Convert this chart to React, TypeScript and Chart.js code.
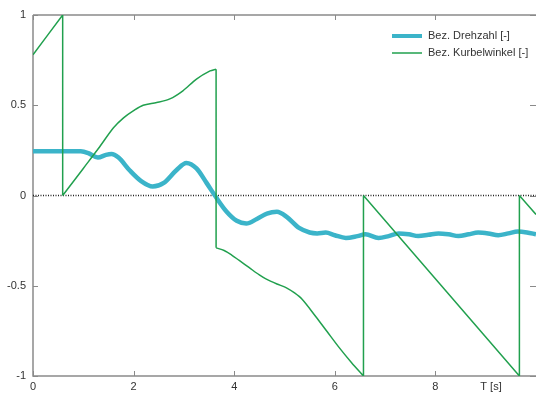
import React, { useEffect, useRef } from "react";
import { Chart, registerables } from "chart.js";

Chart.register(...registerables);

const drehzahlX = [0, 0.5, 0.95, 1.1, 1.29, 1.45, 1.56, 1.7, 1.92, 2.15, 2.38, 2.6, 2.85, 3.05, 3.25, 3.45, 3.64, 3.85, 4.05, 4.24, 4.45, 4.65, 4.85, 5.05, 5.29, 5.5, 5.65, 5.82, 6.0, 6.22, 6.45, 6.61, 6.87, 7.07, 7.27, 7.47, 7.66, 7.86, 8.06, 8.26, 8.46, 8.66, 8.85, 9.05, 9.25, 9.45, 9.64, 9.82, 10];
const drehzahlY = [0.245, 0.245, 0.245, 0.235, 0.21, 0.225, 0.23, 0.21, 0.14, 0.08, 0.05, 0.07, 0.14, 0.18, 0.15, 0.07, -0.01, -0.09, -0.14, -0.155, -0.13, -0.1, -0.09, -0.12, -0.18, -0.205, -0.21, -0.205, -0.22, -0.235, -0.225, -0.215, -0.235, -0.225, -0.21, -0.215, -0.225, -0.218, -0.21, -0.215, -0.225, -0.215, -0.205, -0.21, -0.22, -0.21, -0.2, -0.205, -0.215];

// null entries break the line so each smooth piece and each jump is drawn on its own
const kurbelX = [0, 0.59, null, 0.59, 0.59, null, 0.59, 1.0, 1.3, 1.6, 1.8, 2.0, 2.19, 2.46, 2.72, 2.98, 3.25, 3.52, 3.64, null, 3.64, 3.64, null, 3.64, 3.8, 3.95, 4.1, 4.3, 4.5, 4.63, 4.85, 5.03, 5.2, 5.35, 5.62, 5.85, 6.08, 6.33, 6.57, null, 6.57, 6.57, null, 6.57, 9.67, null, 9.67, 9.67, null, 9.67, 10];
const kurbelY = [0.78, 1.0, null, 1.0, 0, null, 0, 0.15, 0.26, 0.375, 0.43, 0.47, 0.5, 0.515, 0.535, 0.58, 0.645, 0.69, 0.7, null, 0.7, -0.29, null, -0.29, -0.305, -0.33, -0.36, -0.4, -0.44, -0.462, -0.49, -0.51, -0.54, -0.575, -0.67, -0.755, -0.84, -0.925, -1.0, null, -1.0, 0, null, 0, -1.0, null, -1.0, 0, null, 0, -0.105];

const zeroX = [0, 10];
const zeroY = [0, 0];

const seriesLabels = ["Bez. Drehzahl [-]", "Bez. Kurbelwinkel [-]"];
const xTickValues = [0, 2, 4, 6, 8, 10];
const yTickValues = [-1, -0.5, 0, 0.5, 1];
const xAxisLabel = "T [s]";

const BLUE = "#3bb4c9";
const GREEN = "#21a04e";
const FRAME = "#8a8a8a";
const TEXT = "#333333";
const FONT = "Liberation Sans, Arial, Helvetica, sans-serif";

const zip = (xs: (number | null)[], ys: (number | null)[]) =>
  xs.map((x, i) => ({ x: x === null ? NaN : x, y: ys[i] }));

const decorPlugin = {
  id: "decor",
  beforeDatasetsDraw(chart: any) {
    const ctx = chart.ctx;
    const { left, right, top, bottom } = chart.chartArea;
    const xs = chart.scales.x;
    const ys = chart.scales.y;
    ctx.save();
    ctx.strokeStyle = FRAME;
    ctx.lineWidth = 1.5;
    ctx.beginPath();
    ctx.moveTo(left, top);
    ctx.lineTo(left, bottom);
    ctx.lineTo(right + 2, bottom);
    ctx.moveTo(left, top);
    ctx.lineTo(right + 2, top);
    ctx.stroke();
    ctx.lineWidth = 1;
    ctx.beginPath();
    xTickValues.forEach((v) => {
      const px = Math.round(xs.getPixelForValue(v)) + 0.5;
      ctx.moveTo(px, bottom);
      ctx.lineTo(px, bottom - 5);
      ctx.moveTo(px, top);
      ctx.lineTo(px, top + 5);
    });
    yTickValues.forEach((v) => {
      const py = Math.round(ys.getPixelForValue(v)) + 0.5;
      ctx.moveTo(left, py);
      ctx.lineTo(left + 5, py);
      ctx.moveTo(right + 1, py);
      ctx.lineTo(right - 6, py);
    });
    ctx.stroke();
    ctx.restore();
  },
  afterDatasetsDraw(chart: any) {
    const ctx = chart.ctx;
    ctx.save();
    ctx.font = `11px ${FONT}`;
    ctx.fillStyle = TEXT;
    ctx.textBaseline = "middle";
    ctx.textAlign = "left";
    const rows = [
      { label: seriesLabels[0], color: BLUE, width: 4, y: 36 },
      { label: seriesLabels[1], color: GREEN, width: 1.5, y: 53 },
    ];
    rows.forEach((r) => {
      ctx.strokeStyle = r.color;
      ctx.lineWidth = r.width;
      ctx.beginPath();
      ctx.moveTo(392, r.y);
      ctx.lineTo(422, r.y);
      ctx.stroke();
      ctx.fillText(r.label, 428, r.y);
    });
    ctx.textAlign = "center";
    ctx.fillText(xAxisLabel, 491, 387);
    ctx.restore();
  },
};

export default function App() {
  const ref = useRef<HTMLCanvasElement | null>(null);
  useEffect(() => {
    document.body.style.margin = "0";
    const canvas = ref.current;
    if (!canvas) return;
    const chart = new Chart(canvas, {
      type: "line",
      data: {
        datasets: [
          {
            label: seriesLabels[1],
            data: zip(kurbelX, kurbelY),
            borderColor: GREEN,
            borderWidth: 1.5,
            pointRadius: 0,
            tension: 0.3,
            spanGaps: false,
            order: 0,
          },
          {
            label: seriesLabels[0],
            data: zip(drehzahlX, drehzahlY),
            borderColor: BLUE,
            borderWidth: 4.5,
            pointRadius: 0,
            cubicInterpolationMode: "monotone",
            order: 1,
          },
          {
            label: "zero",
            data: zip(zeroX, zeroY),
            borderColor: "#222222",
            borderWidth: 1.5,
            borderDash: [1, 1.5],
            pointRadius: 0,
            order: 2,
          },
        ],
      },
      options: {
        animation: false,
        responsive: false,
        layout: { padding: { top: 15, right: 0, left: 0, bottom: 0 } },
        plugins: { legend: { display: false }, tooltip: { enabled: false } },
        scales: {
          x: {
            type: "linear",
            min: 0,
            max: 10,
            afterFit: (s: any) => {
              s.height = 18;
            },
            afterBuildTicks: (s: any) => {
              s.ticks = xTickValues.map((v) => ({ value: v }));
            },
            ticks: {
              autoSkip: false,
              maxRotation: 0,
              padding: 4,
              color: TEXT,
              font: { family: FONT, size: 11 },
              callback: (v: any) => (v === 10 ? "" : String(v)),
            },
            grid: { display: false, drawTicks: false },
            border: { display: false },
          },
          y: {
            type: "linear",
            min: -1,
            max: 1,
            afterFit: (s: any) => {
              s.width = 33;
            },
            afterBuildTicks: (s: any) => {
              s.ticks = yTickValues.map((v) => ({ value: v }));
            },
            ticks: {
              padding: 7,
              color: TEXT,
              font: { family: FONT, size: 11 },
              callback: (v: any) => String(v),
            },
            grid: { display: false, drawTicks: false },
            border: { display: false },
          },
        },
      },
      plugins: [decorPlugin],
    } as any);
    return () => chart.destroy();
  }, []);
  return (
    <div style={{ width: 536, height: 394, overflow: "hidden", background: "#fff" }}>
      <canvas ref={ref} width={540} height={394} style={{ display: "block" }} />
    </div>
  );
}
